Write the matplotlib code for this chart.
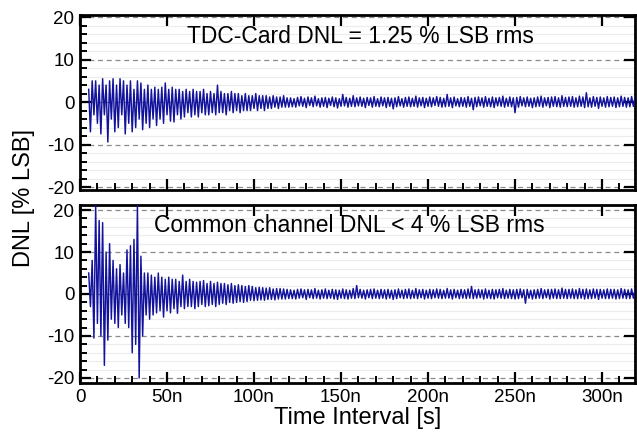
import numpy as np
import matplotlib
matplotlib.use("Agg")
import matplotlib.pyplot as plt
from matplotlib.ticker import MultipleLocator

plt.rcParams['font.family'] = ['Liberation Sans', 'DejaVu Sans']
plt.rcParams['axes.unicode_minus'] = False

# time axis of the traces, in ns (one sample per ns starting at 5 ns)
t_start_ns = 5
t_end_ns = 320

# TDC-Card DNL [% LSB], samples 5..120 ns
tdc_early = [3, -7, 5, -3, 5, -5, 4, -7.5, 5.5, -3, 4, -9.4, 5, -4, 5.5, -7,
             4, -6, 5.5, -3, 5, -7.5, 4, -5, 5, -7, 3, -6, 5, -4, 4.5, -6.5,
             3, -5, 4, -6, 3, -4, 3.5, -5.5, 3, -4, 3.5, -5, 4.5, -3, 3, -4.5,
             3.5, -4.7, 3, -3, 3, -4, 2.5, -3.5, 3, -2.5, 2.5, -3.5, 3, -3,
             2.5, -3.5, 2.5, -2.5, 3, -3, 2, -3, 2.5, -2.5, 2, -3, 4, -2.5,
             2.5, -2.5, 2, -3, 2, -2, 2.5, -2.5, 2, -2, 2, -2.5, 1.5, -2,
             2, -2, 1.5, -2, 1.5, -1.5, 2, -2, 1.5, -1.5, 1.5, -2, 1.5, -1.5,
             1.2, -1.5, 1.5, -1.2, 1.2, -1.5, 1.2, -1.2, 1.5, -1.2, 1, -1.2]
# TDC-Card DNL, samples 121..320 ns
tdc_tail = [1.0, -1.1, 0.8, -1.2, 1.1, -0.9, 1.3, -1.0, 0.9, -1.3, 1.2, -0.8, 1.0, -1.1, 1.4, -0.9, 0.8, -1.2, 1.0, -1.0,
            1.1, -1.3, 0.9, -0.8, 1.2, -1.1, 1.0, -1.4, 0.8, -1.0, 1.8, -0.9, 1.1, -1.2, 0.9, -1.0, 1.5, -1.1, 1.0, -0.9,
            1.2, -1.0, 0.9, -1.3, 1.1, -0.8, 1.0, -1.2, 1.3, -1.0, 0.8, -1.1, 1.2, -0.9, 1.0, -1.3, 1.1, -1.0, 0.9, -1.6,
            1.0, -1.1, 1.3, -0.9, 0.8, -1.2, 1.1, -1.0, 1.2, -1.1, 0.9, -1.0, 1.4, -1.2, 1.0, -0.9, 1.1, -1.3, 0.9, -1.0,
            1.2, -1.1, 1.0, -0.8, 1.3, -1.0, 1.1, -1.2, 0.9, -1.1, 1.8, -1.0, 1.0, -1.3, 1.2, -0.9, 0.8, -1.1, 1.1, -1.0,
            1.0, -1.2, 1.3, -1.0, 0.9, -1.8, 1.1, -1.1, 1.2, -0.9, 1.0, -1.2, 1.3, -1.0, 0.9, -1.1, 1.2, -1.3, 1.0, -0.9,
            1.1, -1.0, 1.4, -1.2, 0.9, -1.0, 1.2, -1.1, 1.0, -2.5, 1.1, -1.2, 1.3, -0.9, 1.0, -1.1, 1.2, -1.0, 0.9, -1.3,
            1.0, -1.1, 1.2, -1.0, 1.4, -1.2, 1.0, -0.9, 1.1, -1.3, 1.2, -1.0, 1.3, -1.1, 1.0, -1.2, 1.5, -1.0, 1.1, -1.1,
            1.2, -1.0, 1.3, -1.2, 1.0, -1.1, 1.4, -1.0, 1.2, -1.3, 2.2, -1.1, 1.0, -1.2, 1.3, -1.0, 1.1, -1.5, 1.2, -1.0,
            1.0, -1.2, 1.3, -1.1, 1.1, -1.0, 1.2, -1.3, 1.0, -1.1, 1.4, -1.0, 1.1, -1.2, 1.0, -1.1, 1.3, -1.0, 1.2, -1.1]

# Common channel DNL [% LSB], samples 5..120 ns
com_early = [5, -3, 8, -10.5, 21, -7, 17.5, -10, 17, -17, 10, -11, 12, -6, 8, -7,
             6, -8, 7, -5, 5, -7, 10.5, -8, 11.5, -14, 13, -12, 21, -20, 9, -10,
             5, -5, 5, -6, 4.5, -5, 4, -4.5, 5, -4, 4, -5.5, 3.5, -4, 4, -4.5,
             3.5, -3.5, 3.5, -4.6, 3, -3, 4.5, -3.5, 3, -3, 3.5, -3, 3, -3.5,
             2.8, -3, 3, -2.5, 3.2, -3, 2.5, -2.8, 3, -2.5, 2.5, -3, 2.8, -2.5,
             2.5, -2.2, 2.5, -2.5, 2.2, -2, 2.5, -2.2, 2, -2, 2.2, -1.8, 2, -2,
             1.8, -1.8, 2, -1.5, 1.8, -1.6, 1.5, -1.5, 1.6, -1.4, 1.5, -1.5, 1.4, -1.3,
             1.5, -1.3, 1.2, -1.4, 1.3, -1.2, 1.3, -1.2, 1.2, -1.2, 1.1, -1.1]
# Common channel DNL, samples 121..320 ns
com_tail = [1.0, -1.1, 0.9, -1.2, 1.1, -1.0, 1.2, -0.9, 1.0, -1.3, 1.1, -0.9, 1.0, -1.1, 1.3, -1.0, 0.9, -1.2, 1.0, -1.0,
            1.2, -1.1, 0.9, -1.0, 1.1, -1.2, 1.0, -1.3, 0.9, -1.0, 1.2, -1.1, 1.0, -1.2, 0.9, -1.0, 1.3, -1.1, 2.0, -0.9,
            1.1, -1.0, 0.9, -1.2, 1.0, -0.9, 1.1, -1.1, 1.2, -1.0, 0.9, -1.1, 1.1, -1.0, 1.0, -1.2, 1.1, -1.0, 0.9, -1.3,
            1.0, -1.1, 1.2, -0.9, 0.9, -1.1, 1.1, -1.0, 1.2, -1.1, 0.9, -1.0, 1.3, -1.1, 1.0, -0.9, 1.1, -1.2, 0.9, -1.0,
            1.1, -1.1, 1.0, -0.9, 1.2, -1.0, 1.1, -1.1, 0.9, -1.0, 1.3, -1.0, 1.0, -1.2, 1.1, -0.9, 0.9, -1.1, 1.1, -1.0,
            1.0, -1.1, 1.2, -1.0, 1.8, -1.1, 1.0, -1.0, 1.1, -0.9, 1.0, -1.2, 1.2, -1.0, 0.9, -1.1, 1.1, -1.2, 1.0, -0.9,
            1.1, -1.0, 1.3, -1.1, 0.9, -1.0, 1.1, -1.1, 1.0, -1.2, 1.1, -1.1, 1.2, -0.9, 1.0, -2.2, 1.1, -1.0, 0.9, -1.2,
            1.0, -1.1, 1.1, -1.0, 1.3, -1.1, 1.0, -0.9, 1.1, -1.2, 1.1, -1.0, 1.2, -1.1, 1.0, -1.1, 1.4, -1.0, 1.1, -1.1,
            1.1, -1.0, 1.2, -1.1, 1.0, -1.1, 1.3, -1.0, 1.1, -1.2, 1.2, -1.1, 1.0, -1.1, 1.2, -1.0, 1.1, -1.3, 1.1, -1.0,
            1.0, -1.1, 1.2, -1.1, 1.1, -1.0, 1.1, -1.2, 1.0, -1.1, 1.3, -1.0, 1.1, -1.1, 1.0, -1.1, 1.2, -1.0, 1.1, -1.1]

panel_texts = ["TDC-Card DNL = 1.25 % LSB rms", "Common channel DNL < 4 % LSB rms"]
x_ticks_ns = [0, 50, 100, 150, 200, 250, 300]
x_tick_labels = ["0", "50n", "100n", "150n", "200n", "250n", "300n"]
y_ticks = [-20, -10, 0, 10, 20]

t = np.arange(t_start_ns, t_end_ns + 1)
series = [np.array(tdc_early + tdc_tail), np.array(com_early + com_tail)]

fig = plt.figure(figsize=(6.37, 4.37), dpi=100)
ax_top = fig.add_axes([0.1256, 0.5652, 0.8714, 0.4005])
ax_bot = fig.add_axes([0.1256, 0.1236, 0.8714, 0.4073])
axes = [ax_top, ax_bot]
ylims = [(-20.7, 20.5), (-21.2, 21.2)]
text_pos = [(0.505, 0.875), (0.485, 0.885)]

line_color = "#12129c"
for i, ax in enumerate(axes):
    ax.plot(t, series[i], color=line_color, lw=1.05, clip_on=True, zorder=3)
    ax.set_xlim(0, 319)
    ax.set_ylim(*ylims[i])
    ax.set_yticks(y_ticks)
    ax.yaxis.set_minor_locator(MultipleLocator(2))
    ax.set_xticks(x_ticks_ns)
    ax.xaxis.set_minor_locator(MultipleLocator(10))
    for yv in range(-20, 21, 2):
        if yv % 10 == 0:
            ax.axhline(yv, color="#8a8a8a", lw=0.9, ls=(0, (4, 3)), zorder=1)
        else:
            ax.axhline(yv, color="#ececec", lw=0.8, zorder=0)
    ax.tick_params(axis='both', which='major', direction='in', length=8, width=1.6,
                   labelsize=13.5, top=True, right=True, pad=4)
    ax.tick_params(axis='y', which='minor', direction='in', length=5, width=1.4,
                   left=True, right=False)
    ax.tick_params(axis='x', which='minor', direction='in', length=5, width=1.4,
                   bottom=True, top=False)
    for sp in ax.spines.values():
        sp.set_linewidth(2.0)
    ax.text(text_pos[i][0], text_pos[i][1], panel_texts[i], transform=ax.transAxes,
            ha='center', va='center', fontsize=16.5)

ax_top.set_xticklabels([])
ax_bot.set_xticklabels(x_tick_labels)
ax_bot.set_xlabel("Time Interval [s]", fontsize=17, labelpad=1)
fig.text(0.038, 0.548, "DNL [% LSB]", rotation=90, ha='center', va='center', fontsize=17)

fig.savefig("out.png", dpi=100)
